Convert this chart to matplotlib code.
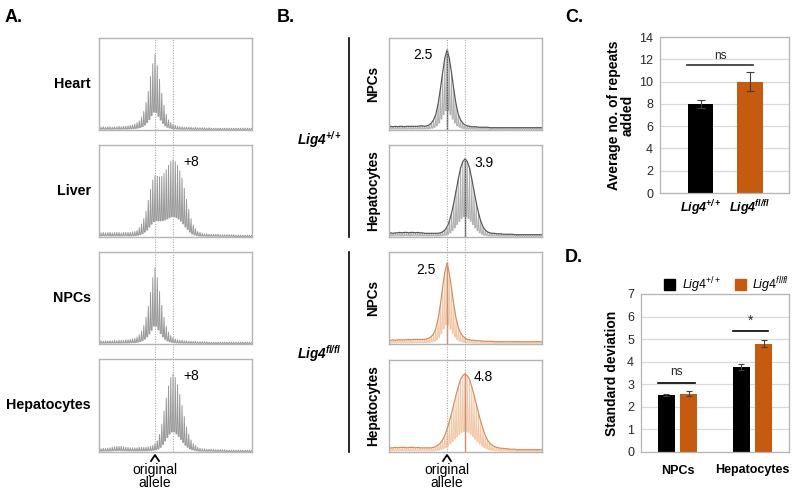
import numpy as np
import matplotlib
matplotlib.use('Agg')
import matplotlib.pyplot as plt
from matplotlib.patches import Patch

plt.rcParams['font.family'] = ['Liberation Sans', 'DejaVu Sans']
plt.rcParams['mathtext.fontset'] = 'custom'
plt.rcParams['mathtext.rm'] = 'Liberation Sans'
plt.rcParams['mathtext.it'] = 'Liberation Sans:italic'
plt.rcParams['mathtext.bf'] = 'Liberation Sans:bold'
plt.rcParams['mathtext.bfit'] = 'Liberation Sans:italic:bold'

W, H = 800, 495

# repeat offset relative to the original allele (x axis of every trace)
repeats = np.arange(-26, 44)
allele_pos = 0
plus8_pos = 8

# ---- panel A traces (peak heights, fraction of box height) ----
heart = [0.03, 0.03, 0.03, 0.035, 0.03, 0.035, 0.035, 0.03, 0.035, 0.035, 0.04, 0.035, 0.04, 0.04, 0.045, 0.05,
         0.055, 0.065, 0.08, 0.10, 0.14, 0.20, 0.30, 0.42, 0.58, 0.72, 0.82, 0.70, 0.55, 0.40, 0.27, 0.17, 0.11,
         0.08, 0.06, 0.05, 0.04,
         0.035, 0.035, 0.03, 0.03, 0.03, 0.03, 0.025, 0.03, 0.025, 0.025, 0.025, 0.025, 0.02, 0.025, 0.02, 0.02,
         0.02, 0.02, 0.02, 0.02, 0.02, 0.02, 0.02, 0.02, 0.02, 0.02, 0.02, 0.02, 0.02, 0.02, 0.02, 0.02, 0.02]
liver = [0.04, 0.045, 0.045, 0.05, 0.045, 0.05, 0.05, 0.045, 0.05, 0.05, 0.05, 0.045, 0.05, 0.05, 0.05, 0.05,
         0.055, 0.06, 0.07, 0.10, 0.14, 0.20, 0.28, 0.40, 0.52, 0.62,
         0.67, 0.66, 0.65, 0.66, 0.69, 0.73, 0.78, 0.82, 0.84, 0.82, 0.78, 0.72, 0.64, 0.53, 0.41, 0.30, 0.20,
         0.13, 0.09, 0.06, 0.05, 0.04,
         0.035, 0.035, 0.03, 0.03, 0.03, 0.03, 0.03, 0.025, 0.025, 0.025, 0.025, 0.025, 0.025, 0.025, 0.02,
         0.02, 0.02, 0.02, 0.02, 0.02, 0.02, 0.02]
npcs_a = [0.03, 0.03, 0.035, 0.03, 0.035, 0.035, 0.035, 0.035, 0.04, 0.035, 0.04, 0.04, 0.04, 0.045, 0.045, 0.05,
          0.055, 0.06, 0.075, 0.10, 0.14, 0.20, 0.29, 0.41, 0.56, 0.72, 0.83, 0.72, 0.57, 0.42, 0.29, 0.19, 0.13,
          0.09, 0.07, 0.055, 0.045,
          0.04, 0.04, 0.035, 0.035, 0.03, 0.03, 0.03, 0.03, 0.025, 0.025, 0.025, 0.025, 0.025, 0.02, 0.02, 0.02,
          0.02, 0.02, 0.02, 0.02, 0.02, 0.02, 0.02, 0.02, 0.02, 0.02, 0.02, 0.02, 0.02, 0.02, 0.02, 0.02, 0.02]
hep_a = [0.03, 0.035, 0.035, 0.04, 0.04, 0.04, 0.045, 0.05, 0.055, 0.06, 0.06, 0.06, 0.055, 0.05, 0.05, 0.045,
         0.045, 0.045, 0.045, 0.05, 0.05, 0.05, 0.05, 0.055, 0.06, 0.07,
         0.09, 0.12, 0.19, 0.30, 0.44, 0.58, 0.71, 0.80, 0.84, 0.80, 0.72, 0.62, 0.50, 0.38, 0.27, 0.19, 0.13,
         0.09, 0.07, 0.05, 0.04,
         0.035, 0.035, 0.03, 0.03, 0.03, 0.03, 0.025, 0.025, 0.025, 0.025, 0.025, 0.02, 0.02, 0.02, 0.02,
         0.02, 0.02, 0.02, 0.02, 0.02, 0.02, 0.02, 0.02]

# ---- panel B traces ----
npcs_wt = [0.035, 0.04, 0.035, 0.04, 0.035, 0.04, 0.04, 0.035, 0.04, 0.04, 0.04, 0.04, 0.04, 0.04, 0.045, 0.045,
           0.04, 0.045, 0.055, 0.075, 0.11, 0.17, 0.28, 0.44, 0.62, 0.78, 0.87, 0.78, 0.62, 0.44, 0.28, 0.17,
           0.11, 0.075, 0.055, 0.045, 0.04,
           0.035, 0.035, 0.035, 0.03, 0.03, 0.03, 0.03, 0.03, 0.025, 0.025, 0.025, 0.025, 0.025, 0.025, 0.025,
           0.025, 0.025, 0.025, 0.025, 0.025, 0.025, 0.025, 0.025, 0.025, 0.025, 0.025, 0.025, 0.025, 0.025,
           0.025, 0.025, 0.025, 0.025]
hep_wt = [0.04, 0.045, 0.04, 0.045, 0.045, 0.05, 0.045, 0.05, 0.05, 0.045, 0.05, 0.05, 0.045, 0.05, 0.045, 0.045,
          0.04, 0.04, 0.04, 0.04, 0.04, 0.04, 0.04,
          0.045, 0.055, 0.075, 0.11, 0.17, 0.26, 0.37, 0.50, 0.63, 0.75, 0.82, 0.85, 0.82, 0.75, 0.63, 0.50,
          0.37, 0.26, 0.17, 0.11, 0.075, 0.055, 0.045,
          0.04, 0.04, 0.035, 0.035, 0.035, 0.03, 0.03, 0.03, 0.03, 0.03, 0.025, 0.025, 0.025, 0.025, 0.025,
          0.025, 0.025, 0.025, 0.025, 0.025, 0.025, 0.025, 0.025, 0.025]
npcs_fl = [0.04, 0.04, 0.045, 0.04, 0.045, 0.045, 0.045, 0.045, 0.045, 0.05, 0.045, 0.05, 0.05, 0.05, 0.05, 0.05,
           0.05, 0.055, 0.065, 0.08, 0.11, 0.17, 0.27, 0.42, 0.61, 0.78, 0.88, 0.77, 0.60, 0.43, 0.28, 0.18,
           0.12, 0.085, 0.065, 0.05, 0.045,
           0.04, 0.04, 0.035, 0.035, 0.035, 0.03, 0.03, 0.03, 0.03, 0.03, 0.025, 0.025, 0.025, 0.025, 0.025,
           0.025, 0.025, 0.025, 0.025, 0.025, 0.025, 0.025, 0.025, 0.025, 0.025, 0.025, 0.025, 0.025, 0.025,
           0.025, 0.025, 0.025, 0.025]
hep_fl = [0.04, 0.045, 0.045, 0.05, 0.045, 0.05, 0.05, 0.05, 0.045, 0.05, 0.05, 0.05, 0.045, 0.05, 0.045, 0.045,
          0.045, 0.045, 0.045, 0.045,
          0.05, 0.06, 0.075, 0.095, 0.13, 0.18, 0.25, 0.33, 0.42, 0.52, 0.62, 0.71, 0.79, 0.83, 0.85, 0.83, 0.79,
          0.71, 0.62, 0.52, 0.42, 0.33, 0.25, 0.18, 0.13, 0.095, 0.075, 0.06, 0.05,
          0.045, 0.04, 0.04, 0.035, 0.035, 0.03, 0.03, 0.03, 0.025, 0.025, 0.025, 0.025, 0.025, 0.025, 0.025,
          0.025, 0.025, 0.025, 0.025, 0.025, 0.025]

sd_labels_b = ['2.5', '3.9', '2.5', '4.8']

# ---- panel C ----
genotypes = [r'$\mathbfit{Lig4}^{\mathbfit{+/+}}$', r'$\mathbfit{Lig4}^{\mathbfit{fl/fl}}$']
repeats_added = [8.0, 10.0]
repeats_added_err = [0.33, 0.85]

# ---- panel D ----
cell_types = ['NPCs', 'Hepatocytes']
sd_wt = [2.52, 3.75]
sd_wt_err = [0.03, 0.13]
sd_fl = [2.58, 4.80]
sd_fl_err = [0.12, 0.16]

BLACK = '#000000'
ORANGE = '#c55a11'
BOX = '#b4b4b4'
GRID = '#d9d9d9'
TXT = '#262626'

fig = plt.figure(figsize=(W / 100, H / 100), dpi=100)


def px_axes(x0, y0, x1, y1):
    return fig.add_axes([x0 / W, 1 - y1 / H, (x1 - x0) / W, (y1 - y0) / H])


def ftext(x, y, s, **kw):
    fig.text(x / W, 1 - y / H, s, **kw)


def zigzag(h, depth=0.27):
    xs, ys = [], []
    for i, k in enumerate(repeats):
        left = depth * min(h[i], h[i - 1]) if i > 0 else depth * h[i]
        right = depth * min(h[i], h[i + 1]) if i < len(h) - 1 else depth * h[i]
        xs += [k - 0.3, k, k + 0.3]
        ys += [left, h[i], right]
    return xs, ys


def trace_box(rect, xlim):
    ax = px_axes(*rect)
    ax.set_xlim(*xlim)
    ax.set_ylim(0, 1)
    ax.set_xticks([])
    ax.set_yticks([])
    for s in ax.spines.values():
        s.set_color(BOX)
        s.set_linewidth(1.0)
    return ax


def draw_trace(ax, h, spike_col, env_col=None):
    xs, ys = zigzag(h)
    ax.plot(xs, ys, color=spike_col, lw=0.7)
    if env_col is not None:
        ax.plot(repeats, h, color=env_col, lw=0.85)
        top = int(np.argmax(h))
        ax.plot([repeats[top], repeats[top]], [0, h[top]], color=env_col, lw=1.0)


def dotted_overlay(rect, xlim):
    ov = px_axes(*rect)
    ov.set_xlim(*xlim)
    ov.set_ylim(0, 1)
    ov.axis('off')
    for p in (allele_pos, plus8_pos):
        ov.axvline(p, color='#a8a8a8', lw=0.8, ls=(0, (1, 1.3)))


def allele_mark(x):
    # small caret pointing at the original allele, then the label under it
    fig.add_artist(plt.Line2D([(x - 4) / W, x / W, (x + 4) / W], [1 - 461 / H, 1 - 455 / H, 1 - 461 / H],
                              color=BLACK, lw=1.3))
    ftext(x, 463, 'original\nallele', ha='center', va='top', fontsize=10, linespacing=0.9)


# ================= Panel A =================
xlim_a = (-24.9, 43.1)
rows_a = [(38, 130), (145, 237), (252, 344), (359, 452)]
names_a = ['Heart', 'Liver', 'NPCs', 'Hepatocytes']
traces_a = [heart, liver, npcs_a, hep_a]
for (y0, y1), name, h in zip(rows_a, names_a, traces_a):
    ax = trace_box((99, y0, 252, y1), xlim_a)
    draw_trace(ax, h, '#9a9a9a')
    ftext(91, (y0 + y1) / 2, name, ha='right', va='center', fontsize=10.3, weight='bold')
    if name in ('Liver', 'Hepatocytes'):
        ax.text(12.6, 0.82, '+8', ha='left', va='center', fontsize=10)
dotted_overlay((99, 38, 252, 452), xlim_a)

ftext(5, 17, 'A.', ha='left', va='center', fontsize=13, weight='bold')
allele_mark(155)

# ================= Panel B =================
xlim_b = (-25.8, 42.2)
rows_b = [(38, 130), (145, 237), (252, 344), (360, 452)]
names_b = ['NPCs', 'Hepatocytes', 'NPCs', 'Hepatocytes']
traces_b = [npcs_wt, hep_wt, npcs_fl, hep_fl]
spike_cols = ['#b0b0b0', '#b0b0b0', '#f3c8a8', '#f3c8a8']
env_cols = ['#555555', '#555555', '#d98a58', '#d98a58']
label_pos = [(-10.6, 0.81), (16.6, 0.80), (-9.4, 0.80), (16.2, 0.81)]
for (y0, y1), name, h, sc, ec, lab, (lx, ly) in zip(rows_b, names_b, traces_b, spike_cols,
                                                     env_cols, sd_labels_b, label_pos):
    ax = trace_box((389, y0, 542, y1), xlim_b)
    draw_trace(ax, h, sc, ec)
    ax.text(lx, ly, lab, ha='center', va='center', fontsize=10)
    ftext(373, (y0 + y1) / 2, name, ha='center', va='center', rotation=90, fontsize=9.8, weight='bold')
dotted_overlay((389, 38, 542, 452), xlim_b)

for y0, y1, g in [(38, 237, genotypes[0]), (252, 452, genotypes[1])]:
    fig.add_artist(plt.Line2D([349 / W, 349 / W], [1 - y0 / H, 1 - y1 / H], color=BLACK, lw=1.2))
    ftext(297, (y0 + y1) / 2 + 2, g, ha='left', va='center', fontsize=9.8)

ftext(277, 17, 'B.', ha='left', va='center', fontsize=13, weight='bold')
allele_mark(447)


def style_bar_axes(ax):
    for s in ax.spines.values():
        s.set_color(BOX)
        s.set_linewidth(0.9)
    ax.yaxis.grid(True, color=GRID, lw=0.9)
    ax.set_axisbelow(True)
    ax.tick_params(length=0, labelsize=9, labelcolor=TXT, pad=5)


# ================= Panel C =================
axc = px_axes(660, 37, 789, 193)
xc = np.arange(len(genotypes))
axc.bar(xc, repeats_added, width=0.52, color=[BLACK, ORANGE],
        yerr=repeats_added_err, error_kw=dict(ecolor='#404040', elinewidth=0.8, capsize=3, capthick=0.8))
axc.set_xlim(-0.83, 1.8)
axc.set_ylim(0, 14)
axc.set_yticks(range(0, 15, 2))
axc.set_xticks(xc)
axc.set_xticklabels(genotypes, fontsize=10.5)
style_bar_axes(axc)
axc.tick_params(axis='x', labelcolor=BLACK, pad=4)
axc.set_ylabel('Average no. of repeats\nadded', fontsize=10, weight='bold', labelpad=3, linespacing=0.95)
axc.plot([-0.27, 1.06], [11.5, 11.5], color='#404040', lw=1.3)
axc.text(0.395, 11.75, 'ns', ha='center', va='bottom', fontsize=8.5, color=TXT)
ftext(565, 17, 'C.', ha='left', va='center', fontsize=13, weight='bold')

# ================= Panel D =================
axd = px_axes(641, 294, 789, 452)
xd = np.arange(len(cell_types))
ekw = dict(ecolor='#404040', elinewidth=0.8, capsize=2.5, capthick=0.8)
axd.bar(xd - 0.153, sd_wt, width=0.227, color=BLACK, yerr=sd_wt_err, error_kw=ekw)
axd.bar(xd + 0.153, sd_fl, width=0.227, color=ORANGE, yerr=sd_fl_err, error_kw=ekw)
axd.set_xlim(-0.487, 1.487)
axd.set_ylim(0, 7)
axd.set_yticks(range(0, 8))
axd.set_xticks(xd)
axd.set_xticklabels(cell_types, fontsize=11.5, weight='bold')
style_bar_axes(axd)
axd.tick_params(axis='x', labelcolor=BLACK, pad=9)
axd.set_ylabel('Standard deviation', fontsize=10, weight='bold', labelpad=6)
axd.plot([-0.26, 0.233], [3.07, 3.07], color=BLACK, lw=1.2)
axd.text(-0.013, 3.3, 'ns', ha='center', va='bottom', fontsize=8.5, color=TXT)
axd.plot([0.74, 1.21], [5.37, 5.37], color=BLACK, lw=1.2)
axd.text(0.975, 5.5, '*', ha='center', va='bottom', fontsize=10, color=TXT)
leg_labels = [r'$\mathit{Lig4}^{\mathit{+/+}}$', r'$\mathit{Lig4}^{\mathit{fl/fl}}$']
axd.legend(handles=[Patch(color=BLACK), Patch(color=ORANGE)], labels=leg_labels, loc='lower right',
           bbox_to_anchor=(1.02, 0.98), ncol=2, frameon=False, fontsize=9, handlelength=0.9,
           handleheight=0.9, handletextpad=0.5, columnspacing=1.1, borderaxespad=0.1, borderpad=0.1)
ftext(565, 257, 'D.', ha='left', va='center', fontsize=13, weight='bold')

fig.savefig('out.png', dpi=100)
